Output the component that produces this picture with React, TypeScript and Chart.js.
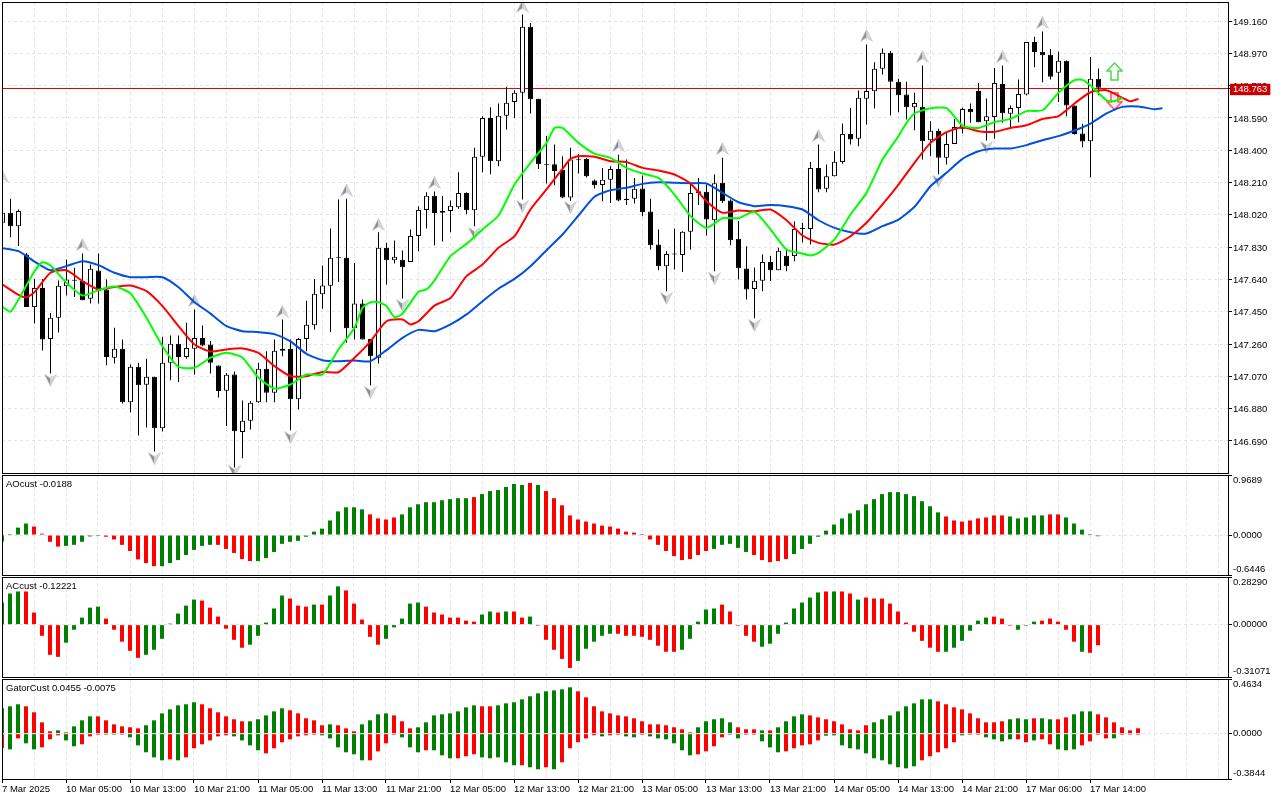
import { useEffect, useRef } from 'react';
import { Chart, registerables } from 'chart.js';

Chart.register(...registerables);

const opens = [147.973,148.032,147.953,147.786,147.477,147.590,147.290,147.414,147.600,147.637,147.630,147.526,147.692,147.581,147.179,147.232,146.918,147.126,147.020,147.067,146.765,147.149,147.261,147.183,147.232,147.296,147.257,147.134,146.985,147.081,146.743,146.808,146.918,147.114,146.973,147.220,147.232,146.935,147.290,147.371,147.553,147.602,147.767,147.767,147.353,147.498,147.290,147.179,147.826,147.753,147.755,147.743,147.896,148.049,148.132,148.032,148.043,148.065,148.149,148.047,148.361,148.590,148.335,148.602,148.684,148.738,149.126,148.702,148.318,148.318,148.285,148.122,148.345,148.349,148.222,148.196,148.226,148.290,148.114,148.114,148.175,148.039,147.845,147.718,147.786,147.783,147.920,148.159,148.155,147.988,148.208,148.104,147.879,147.704,147.583,147.632,147.743,147.694,147.779,147.777,147.937,147.937,148.296,148.173,148.247,148.330,148.496,148.467,148.702,148.747,148.879,148.973,148.802,148.728,148.653,148.655,148.459,148.514,148.355,148.437,148.526,148.643,148.749,148.571,148.596,148.790,148.614,148.649,148.727,149.037,148.979,148.961,148.855,148.926,148.663,148.498,148.453,148.820];
const highs = [148.061,148.114,148.051,147.796,147.643,147.643,147.443,147.633,147.757,147.708,147.792,147.728,147.792,147.639,147.355,147.287,147.139,147.149,147.173,147.067,147.302,147.310,147.310,147.385,147.463,147.369,147.277,147.134,147.090,147.098,146.928,146.924,147.149,147.218,147.287,147.404,147.287,147.296,147.514,147.643,147.722,147.939,148.110,148.114,147.737,147.522,147.290,147.918,147.855,147.869,147.810,147.934,148.071,148.153,148.157,148.130,148.104,148.271,148.153,148.414,148.600,148.653,148.675,148.773,148.753,149.198,149.149,148.702,148.483,148.433,148.365,148.414,148.377,148.353,148.228,148.296,148.306,148.373,148.345,148.237,148.251,148.114,147.934,147.806,147.939,147.924,148.204,148.237,148.198,148.257,148.355,148.110,147.983,147.835,147.710,147.786,147.777,147.826,147.816,147.981,147.973,148.330,148.434,148.316,148.394,148.557,148.649,148.751,149.022,148.918,148.998,148.983,148.820,148.802,148.738,148.898,148.571,148.526,148.502,148.584,148.651,148.675,148.796,148.704,148.884,148.898,148.663,148.816,149.037,149.067,149.098,148.996,148.979,148.928,148.663,148.555,148.949,148.880];
const lows = [147.934,147.888,147.836,147.477,147.381,147.222,147.087,147.328,147.545,147.536,147.518,147.498,147.498,147.135,147.145,146.910,146.859,146.722,146.769,146.628,146.745,147.047,147.036,147.173,147.081,147.247,147.087,146.945,146.777,146.534,146.588,146.757,146.914,146.918,146.918,147.188,146.753,146.875,147.218,147.345,147.467,147.330,147.624,147.267,147.286,147.286,147.016,147.145,147.610,147.734,147.528,147.743,147.806,147.939,147.840,147.863,147.918,148.055,148.024,147.953,148.271,148.259,148.306,148.522,148.590,148.110,148.616,148.290,148.204,148.194,148.118,148.102,148.263,148.239,148.175,148.100,148.090,148.100,148.077,148.086,148.012,147.816,147.694,147.571,147.698,147.683,147.816,148.077,147.898,147.688,148.090,147.841,147.639,147.522,147.412,147.571,147.630,147.694,147.688,147.747,147.859,147.845,148.153,148.153,148.247,148.320,148.434,148.424,148.551,148.645,148.845,148.604,148.624,148.581,148.518,148.345,148.365,148.259,148.316,148.437,148.498,148.561,148.565,148.457,148.467,148.561,148.531,148.565,148.722,148.888,148.800,148.816,148.683,148.600,148.492,148.418,148.241,148.724];
const closes = [148.032,147.953,148.043,147.477,147.590,147.287,147.414,147.602,147.639,147.632,147.518,147.702,147.571,147.183,147.232,146.918,147.126,147.018,147.067,146.765,147.149,147.261,147.183,147.237,147.296,147.251,147.149,146.983,147.079,146.747,146.808,146.914,147.114,146.973,147.220,147.232,146.935,147.290,147.373,147.555,147.604,147.767,147.767,147.353,147.498,147.286,147.188,147.826,147.753,147.773,147.712,147.896,148.049,148.132,148.030,148.043,148.073,148.149,148.047,148.361,148.590,148.335,148.602,148.679,148.738,149.126,148.700,148.318,148.312,148.277,148.122,148.345,148.341,148.247,148.194,148.226,148.290,148.104,148.106,148.173,148.035,147.841,147.718,147.790,147.790,147.920,148.149,148.149,147.992,148.206,148.100,147.871,147.706,147.581,147.632,147.743,147.694,147.808,147.718,147.937,147.937,148.296,148.169,148.247,148.332,148.496,148.463,148.708,148.749,148.879,148.973,148.802,148.724,148.653,148.677,148.453,148.514,148.355,148.437,148.537,148.643,148.624,148.565,148.600,148.796,148.618,148.649,148.731,149.037,148.977,148.959,148.832,148.926,148.663,148.496,148.451,148.820,148.767];

const jaw: [number, number][] = [[0,147.824],[2,147.806],[4,147.745],[6,147.694],[8,147.718],[10,147.747],[12,147.724],[14,147.679],[16,147.653],[18,147.653],[20,147.653],[22,147.594],[24,147.506],[26,147.439],[28,147.365],[30,147.335],[32,147.330],[34,147.318],[36,147.275],[38,147.202],[40,147.165],[42,147.159],[44,147.163],[46,147.159],[48,147.224],[50,147.296],[52,147.343],[54,147.335],[56,147.375],[58,147.434],[60,147.512],[62,147.585],[64,147.643],[66,147.718],[68,147.812],[70,147.904],[72,148.016],[74,148.126],[76,148.165],[78,148.179],[80,148.202],[82,148.212],[84,148.208],[86,148.206],[88,148.204],[90,148.149],[92,148.094],[94,148.071],[96,148.077],[98,148.071],[100,148.051],[102,147.988],[104,147.943],[106,147.918],[108,147.910],[110,147.953],[112,147.992],[114,148.067],[116,148.188],[118,148.267],[120,148.349],[122,148.394],[124,148.410],[126,148.410],[128,148.430],[130,148.459],[132,148.483],[134,148.516],[136,148.557],[138,148.616],[140,148.655],[142,148.657],[144,148.641],[145,148.647]];
const teeth: [number, number][] = [[0,147.610],[2,147.549],[3,147.535],[4,147.565],[6,147.679],[8,147.694],[10,147.630],[12,147.581],[14,147.596],[16,147.604],[18,147.571],[20,147.483],[22,147.365],[24,147.257],[26,147.216],[28,147.228],[30,147.234],[32,147.208],[34,147.130],[36,147.071],[38,147.071],[40,147.096],[42,147.094],[44,147.179],[46,147.276],[48,147.394],[50,147.404],[51,147.375],[52,147.394],[54,147.486],[56,147.531],[58,147.659],[60,147.727],[62,147.826],[64,147.894],[66,148.051],[68,148.169],[70,148.290],[71,148.349],[72,148.365],[74,148.361],[76,148.335],[78,148.330],[80,148.296],[82,148.281],[84,148.257],[86,148.204],[88,148.100],[90,148.032],[92,148.045],[94,148.041],[96,148.051],[98,147.988],[100,147.898],[102,147.855],[104,147.845],[106,147.894],[108,147.973],[110,148.081],[112,148.198],[114,148.326],[116,148.443],[118,148.506],[120,148.535],[122,148.512],[124,148.508],[126,148.531],[128,148.547],[130,148.584],[132,148.600],[134,148.675],[136,148.741],[138,148.753],[140,148.708],[141,148.688],[142,148.702]];
const lips: [number, number][] = [[0,147.479],[1,147.449],[2,147.522],[4,147.688],[5,147.741],[6,147.722],[8,147.620],[10,147.545],[12,147.577],[14,147.598],[16,147.557],[18,147.414],[20,147.247],[22,147.126],[24,147.120],[26,147.179],[28,147.208],[30,147.179],[32,147.061],[34,146.998],[36,147.022],[38,147.081],[40,147.081],[42,147.228],[44,147.355],[45,147.473],[46,147.506],[47,147.506],[48,147.483],[49,147.418],[50,147.439],[52,147.567],[53,147.581],[54,147.634],[56,147.777],[58,147.849],[60,147.934],[62,148.016],[64,148.198],[66,148.326],[68,148.443],[69,148.531],[70,148.531],[72,148.443],[74,148.380],[76,148.355],[78,148.296],[80,148.263],[82,148.237],[84,148.139],[86,148.012],[88,147.943],[90,148.000],[92,148.000],[94,148.037],[96,147.934],[98,147.816],[100,147.792],[101,147.781],[102,147.796],[104,147.875],[106,148.022],[108,148.149],[110,148.345],[112,148.483],[113,148.561],[114,148.616],[116,148.647],[118,148.647],[120,148.545],[122,148.531],[124,148.565],[126,148.584],[128,148.630],[130,148.635],[132,148.738],[134,148.812],[135,148.814],[136,148.780],[138,148.694],[139,148.688],[140,148.708]];

const fractalUpIndex = [0,10,24,35,43,47,54,65,77,90,102,108,115,125,130];
const fractalUpPrice = [148.245,147.845,147.516,147.453,148.165,147.963,148.210,149.247,148.428,148.410,148.487,149.075,148.951,148.951,149.151];
const fractalDownIndex = [6,19,29,36,46,50,59,65,71,83,89,94,117,123];
const fractalDownPrice = [147.047,146.586,146.510,146.710,146.975,147.486,147.910,148.069,148.063,147.528,147.645,147.369,148.218,148.416];
const signalIndex = 139;
const signalBuyPrice = 148.863;
const signalSellPrice = 148.688;

const bid = 148.763;
const priceTicks = [149.16,148.97,148.78,148.59,148.4,148.21,148.02,147.83,147.64,147.45,147.26,147.07,146.88,146.69];

const aoValues = [-0.104,0.005,0.120,0.186,0.137,0.022,-0.109,-0.186,-0.175,-0.158,-0.109,-0.022,-0.011,-0.027,-0.071,-0.158,-0.257,-0.393,-0.453,-0.502,-0.502,-0.453,-0.404,-0.322,-0.240,-0.175,-0.158,-0.158,-0.224,-0.289,-0.388,-0.420,-0.420,-0.371,-0.273,-0.142,-0.109,-0.093,-0.027,0.055,0.104,0.235,0.382,0.448,0.448,0.415,0.333,0.268,0.251,0.284,0.333,0.448,0.497,0.530,0.530,0.562,0.579,0.595,0.595,0.612,0.661,0.710,0.726,0.775,0.824,0.808,0.841,0.808,0.710,0.595,0.480,0.317,0.251,0.218,0.186,0.153,0.137,0.104,0.055,0.038,0.005,-0.071,-0.158,-0.257,-0.339,-0.404,-0.388,-0.322,-0.257,-0.224,-0.158,-0.142,-0.207,-0.273,-0.322,-0.404,-0.437,-0.420,-0.388,-0.306,-0.224,-0.142,-0.027,0.071,0.169,0.268,0.349,0.399,0.497,0.579,0.661,0.693,0.693,0.661,0.628,0.546,0.464,0.366,0.300,0.235,0.218,0.235,0.268,0.284,0.317,0.317,0.300,0.268,0.284,0.317,0.317,0.333,0.333,0.284,0.186,0.087,0.005,-0.0188];
const aoColors = 'ggggrrrrgggggrrrrrrrgggggggrrrrrggggggggggggggrrrrgggggggggrggggggrgrrrrrrrrrrrrrrrrrrrrrgggggrrrrrgggggggggggggggggggrrrrrrrrgggggrrggggrrrrrr';
const acValues = [0.131,0.185,0.197,0.197,0.072,-0.066,-0.179,-0.191,-0.107,-0.030,0.042,0.101,0.107,0.036,-0.030,-0.101,-0.155,-0.197,-0.179,-0.149,-0.084,0.006,0.066,0.113,0.149,0.143,0.101,0.048,-0.024,-0.090,-0.137,-0.119,-0.066,0.012,0.096,0.173,0.155,0.113,0.107,0.119,0.119,0.173,0.227,0.203,0.125,0.030,-0.072,-0.119,-0.084,-0.016,0.036,0.125,0.131,0.107,0.072,0.060,0.042,0.042,0.024,0.018,0.060,0.078,0.072,0.078,0.078,0.042,0.048,-0.004,-0.090,-0.149,-0.203,-0.257,-0.215,-0.143,-0.101,-0.066,-0.054,-0.054,-0.066,-0.066,-0.072,-0.090,-0.125,-0.161,-0.161,-0.149,-0.084,0.018,0.090,0.096,0.119,0.078,-0.006,-0.066,-0.101,-0.131,-0.113,-0.054,0.012,0.096,0.131,0.161,0.191,0.197,0.197,0.197,0.185,0.149,0.161,0.155,0.155,0.125,0.078,0.012,-0.042,-0.096,-0.137,-0.161,-0.161,-0.137,-0.096,-0.036,0.024,0.042,0.048,0.036,-0.004,-0.030,-0.006,0.018,0.024,0.036,0.018,-0.030,-0.101,-0.161,-0.167,-0.12221];
const acColors = 'gggrrrrrgggggrrrrrgggggggrrrrrrgggggrrrgrggrrrrrgggggrrrrrrrggrgrrgrrrrrgggggrrrrrrrrgggggrrrrrggggggggrgrrgrrrrrrrrrrggggggrrrgggrrrrrg';
const gatorUpper = [0.215,0.232,0.249,0.232,0.181,0.096,0.020,0.028,0.011,0.062,0.113,0.147,0.147,0.113,0.079,0.062,0.054,0.045,0.071,0.113,0.172,0.206,0.240,0.249,0.266,0.249,0.215,0.181,0.147,0.122,0.105,0.105,0.122,0.155,0.189,0.215,0.198,0.172,0.130,0.113,0.071,0.079,0.071,0.045,0.020,0.079,0.113,0.164,0.172,0.155,0.105,0.045,0.054,0.096,0.155,0.164,0.172,0.189,0.223,0.240,0.232,0.232,0.240,0.257,0.266,0.291,0.317,0.342,0.359,0.367,0.376,0.393,0.359,0.308,0.232,0.189,0.172,0.155,0.147,0.130,0.105,0.079,0.079,0.071,0.054,0.037,0.011,0.054,0.105,0.122,0.130,0.096,0.054,0.037,0.037,0.028,0.028,0.054,0.105,0.147,0.164,0.155,0.138,0.122,0.105,0.079,0.037,0.028,0.071,0.096,0.122,0.155,0.189,0.232,0.257,0.291,0.291,0.274,0.249,0.223,0.206,0.172,0.130,0.096,0.096,0.105,0.122,0.130,0.122,0.130,0.130,0.122,0.122,0.138,0.164,0.189,0.189,0.164,0.138,0.096,0.054,0.028,0.0455];
const gatorLower = [-0.122,-0.133,-0.040,-0.082,-0.133,-0.116,-0.048,-0.014,-0.057,-0.107,-0.090,-0.023,-0.006,-0.006,-0.006,-0.006,-0.031,-0.099,-0.158,-0.201,-0.226,-0.218,-0.226,-0.201,-0.124,-0.090,-0.057,-0.023,-0.014,-0.023,-0.057,-0.099,-0.141,-0.167,-0.124,-0.073,-0.048,-0.023,-0.014,-0.006,-0.014,-0.040,-0.116,-0.158,-0.175,-0.226,-0.226,-0.150,-0.082,-0.006,-0.031,-0.116,-0.158,-0.141,-0.141,-0.184,-0.209,-0.209,-0.192,-0.175,-0.201,-0.209,-0.201,-0.243,-0.268,-0.268,-0.285,-0.302,-0.285,-0.302,-0.243,-0.124,-0.073,-0.040,-0.014,-0.023,-0.014,-0.008,-0.023,-0.031,-0.006,-0.023,-0.040,-0.048,-0.082,-0.141,-0.184,-0.175,-0.150,-0.107,-0.031,-0.008,-0.040,-0.006,-0.006,-0.065,-0.116,-0.158,-0.150,-0.124,-0.099,-0.090,-0.057,-0.017,-0.014,-0.099,-0.124,-0.133,-0.167,-0.209,-0.226,-0.260,-0.285,-0.294,-0.277,-0.226,-0.192,-0.158,-0.124,-0.073,-0.014,-0.006,-0.006,-0.031,-0.048,-0.065,-0.048,-0.048,-0.073,-0.057,-0.048,-0.090,-0.133,-0.141,-0.133,-0.099,-0.065,-0.006,-0.040,-0.040,-0.006,-0.006,-0.0075];
const gatorUpperColors = 'gggrrrrgrgggrrrrrrgggggggrrrrrrgggggrrrrrgrrrggggrrrggggggggrrggggggggggrrrrrrrrrrrrrrrgggggrrrgrggggrrrrrrrrggggggggrrrrrrrrrgggrggrrgggrrrrrrg';
const gatorLowerColors = 'rgrggrrrggrrrggggggggrgrrrrrrggggrrrrrrrggggggrrrrgggrgggrrrgggggrggrgrrrrrgrrggrggggggrrrrrgrrgggrrrrrggggggggggggrrrrrgrrggggrrgrrgggrrrrgrrrr';

const aoTicks = [0.9689, 0, -0.6446];
const acTicks = [0.2829, 0, -0.31071];
const gatorTicks = [0.4634, 0, -0.3844];

const timeLabels = ['7 Mar 2025','10 Mar 05:00','10 Mar 13:00','10 Mar 21:00','11 Mar 05:00','11 Mar 13:00','11 Mar 21:00','12 Mar 05:00','12 Mar 13:00','12 Mar 21:00','13 Mar 05:00','13 Mar 13:00','13 Mar 21:00','14 Mar 05:00','14 Mar 13:00','14 Mar 21:00','17 Mar 06:00','17 Mar 14:00'];
const gridIndexes = [0,4,8,12,16,20,24,28,32,36,40,44,48,52,56,60,64,68,72,76,80,84,88,92,96,100,104,108,112,116,120,124,128,132,136,140,144,148,152];

const GRID = '#e3e3e3';
const UP = '#008000';
const DOWN = '#ff0000';
const FONT = { family: '"Liberation Sans", Arial, sans-serif', size: 9.5 };
const FONT_CSS = '9.5px "Liberation Sans", Arial, sans-serif';

function pairs(xs: number[], ys: number[]) {
  return xs.map((x, i) => ({ x, y: ys[i] }));
}

function fixSize(s: any, w: number | null, h: number | null) {
  if (w !== null) s.width = w;
  if (h !== null) s.height = h;
  s.paddingTop = 0;
  s.paddingBottom = 0;
  s.paddingLeft = 0;
  s.paddingRight = 0;
}

function xScale(min: number, max: number, labels: boolean) {
  return {
    type: 'linear',
    min,
    max,
    offset: false,
    afterBuildTicks: (s: any) => { s.ticks = gridIndexes.map((value) => ({ value })); },
    afterFit: (s: any) => fixSize(s, null, labels ? 21 : 0),
    grid: {
      offset: false,
      color: GRID,
      lineWidth: 1,
      drawTicks: labels,
      tickLength: 4,
      tickColor: (c: any) => (c.tick && c.tick.value % 8 === 0 && c.tick.value <= 136 ? '#000' : 'transparent'),
    },
    border: { display: false, dash: [3, 3] },
    ticks: {
      display: labels,
      autoSkip: false,
      maxRotation: 0,
      minRotation: 0,
      align: 'start',
      padding: 1,
      color: '#000',
      font: FONT,
      callback: (v: number) => (v % 8 === 0 ? timeLabels[v / 8] ?? '' : ''),
    },
  };
}

function subY(values: number[], decimals: number, onTop: boolean) {
  const top = values[0];
  const bottom = values[2];
  return {
    position: 'right',
    min: bottom,
    max: top,
    afterBuildTicks: (s: any) => { s.ticks = values.map((value) => ({ value })); },
    afterFit: (s: any) => fixSize(s, 52, null),
    grid: {
      z: onTop ? 1 : 0,
      color: (c: any) => (c.tick && c.tick.value === 0 ? GRID : 'transparent'),
      tickLength: 4,
      tickColor: '#000',
    },
    border: { display: false, dash: [3, 3] },
    ticks: {
      autoSkip: false,
      padding: 1,
      color: '#000',
      font: FONT,
      callback: (v: number) => {
        const t = v.toFixed(decimals);
        if (v === top) return ['', t];
        if (v === bottom) return [t, ''];
        return t;
      },
    },
  };
}

function frame(text: string | null) {
  return {
    id: 'frame',
    afterDraw(chart: any) {
      const { ctx, chartArea: a } = chart;
      ctx.save();
      ctx.strokeStyle = '#000';
      ctx.lineWidth = 1;
      ctx.strokeRect(a.left + 0.5, a.top + 0.5, a.right - a.left, a.bottom - a.top);
      if (text) {
        ctx.fillStyle = '#000';
        ctx.font = FONT_CSS;
        ctx.textBaseline = 'middle';
        ctx.textAlign = 'left';
        ctx.fillText(text, a.left + 4, a.top + 9.5);
      }
      ctx.restore();
    },
  };
}

function fractal(up: boolean) {
  const c = document.createElement('canvas');
  c.width = 13;
  c.height = 13;
  const g = c.getContext('2d') as CanvasRenderingContext2D;
  if (!up) { g.translate(0, 13); g.scale(1, -1); }
  g.beginPath(); g.moveTo(6.5, 0.5); g.lineTo(6.5, 8.5); g.lineTo(0.5, 12.5); g.closePath();
  g.fillStyle = '#8f8f8f'; g.fill();
  g.beginPath(); g.moveTo(6.5, 0.5); g.lineTo(6.5, 8.5); g.lineTo(12.5, 12.5); g.closePath();
  g.fillStyle = '#d4d4d8'; g.fill();
  g.beginPath(); g.moveTo(6.5, 0.5); g.lineTo(12.5, 12.5); g.lineTo(6.5, 8.5); g.lineTo(0.5, 12.5); g.closePath();
  g.strokeStyle = 'rgba(190,200,215,0.8)'; g.lineWidth = 0.8; g.stroke();
  return c;
}

function bigArrow(up: boolean) {
  const c = document.createElement('canvas');
  c.width = 17;
  c.height = 19;
  const g = c.getContext('2d') as CanvasRenderingContext2D;
  if (!up) { g.translate(0, 19); g.scale(1, -1); }
  g.beginPath();
  g.moveTo(8.5, 1); g.lineTo(16, 9); g.lineTo(12, 9); g.lineTo(12, 18); g.lineTo(5, 18); g.lineTo(5, 9); g.lineTo(1, 9);
  g.closePath();
  g.fillStyle = up ? '#ffffff' : 'rgba(255,205,215,0.45)';
  g.fill();
  g.strokeStyle = up ? '#44dd44' : '#ff4a60';
  g.lineWidth = 1.5;
  g.stroke();
  return c;
}

function subBars(values: number[], colors: string) {
  return {
    type: 'bar',
    grouped: false,
    barThickness: 4,
    inflateAmount: 0,
    borderWidth: 0,
    minBarLength: 1,
    data: pairs(values.map((_, i) => i), values),
    backgroundColor: values.map((_, i) => (colors[i] === 'g' ? UP : DOWN)),
  };
}

function subOptions(values: number[], decimals: number, bottomLabels: boolean, onTop: boolean) {
  return {
    responsive: false,
    animation: false,
    devicePixelRatio: 1,
    layout: { autoPadding: false, padding: { left: 2, top: 1, bottom: bottomLabels ? 0 : 1, right: 0 } },
    plugins: { legend: { display: false }, tooltip: { enabled: false } },
    scales: {
      x: xScale(0, 153.25, bottomLabels),
      y: subY(values, decimals, onTop),
    },
  };
}

export default function App() {
  const mainRef = useRef<HTMLCanvasElement>(null);
  const aoRef = useRef<HTMLCanvasElement>(null);
  const acRef = useRef<HTMLCanvasElement>(null);
  const gatorRef = useRef<HTMLCanvasElement>(null);

  useEffect(() => {
    const idx = opens.map((_, i) => i);
    const lineStyle = { type: 'line', pointRadius: 0, borderWidth: 2, fill: false, tension: 0.2 };
    const main = new Chart(mainRef.current as HTMLCanvasElement, {
      type: 'bar',
      data: {
        datasets: [
          { type: 'line', order: 60, data: [{ x: -1, y: bid }, { x: 154, y: bid }], borderColor: '#d80000', borderWidth: 1, pointRadius: 0 },
          { type: 'bar', order: 50, grouped: false, barThickness: 1, inflateAmount: 0, borderWidth: 0, backgroundColor: '#000',
            data: idx.map((i) => ({ x: i, y: [lows[i], highs[i]] })) },
          { type: 'bar', order: 40, grouped: false, barThickness: 5, inflateAmount: 0, borderWidth: 1, borderSkipped: false, borderColor: '#000', minBarLength: 1,
            backgroundColor: idx.map((i) => (closes[i] >= opens[i] ? '#fff' : '#000')),
            data: idx.map((i) => ({ x: i, y: [opens[i], closes[i]] })) },
          { type: 'line', order: 30, showLine: false, pointStyle: fractal(true), pointRadius: 6, data: pairs(fractalUpIndex, fractalUpPrice) },
          { type: 'line', order: 30, showLine: false, pointStyle: fractal(false), pointRadius: 6, data: pairs(fractalDownIndex, fractalDownPrice) },
          { type: 'line', order: 25, showLine: false, pointStyle: bigArrow(true), pointRadius: 8, data: [{ x: signalIndex, y: signalBuyPrice }] },
          { type: 'line', order: 25, showLine: false, pointStyle: bigArrow(false), pointRadius: 8, data: [{ x: signalIndex, y: signalSellPrice }] },
          { ...lineStyle, order: 22, borderColor: '#0050dc', data: jaw.map(([x, y]) => ({ x, y })) },
          { ...lineStyle, order: 21, borderColor: '#ff0000', data: teeth.map(([x, y]) => ({ x, y })) },
          { ...lineStyle, order: 20, borderColor: '#00ff00', data: lips.map(([x, y]) => ({ x, y })) },
        ],
      },
      options: {
        responsive: false,
        animation: false,
        devicePixelRatio: 1,
        layout: { autoPadding: false, padding: { left: 2, top: 2, bottom: 1, right: 0 } },
        plugins: { legend: { display: false }, tooltip: { enabled: false } },
        scales: {
          x: xScale(-0.0625, 153.1875, false),
          y: {
            position: 'right',
            min: 146.5012,
            max: 149.2718,
            afterBuildTicks: (s: any) => { s.ticks = [...priceTicks, bid].map((value) => ({ value })); },
            afterFit: (s: any) => fixSize(s, 52, null),
            grid: {
              color: (c: any) => (c.tick && c.tick.value === bid ? 'transparent' : GRID),
              tickLength: 4,
              tickColor: '#000',
            },
            border: { display: false, dash: [3, 3] },
            ticks: {
              autoSkip: false,
              padding: 1,
              labelOffset: 1,
              font: FONT,
              color: (c: any) => (c.tick && c.tick.value === bid ? '#fff' : '#000'),
              showLabelBackdrop: (c: any) => !!(c.tick && c.tick.value === bid),
              backdropColor: '#c80000',
              backdropPadding: { top: 0, bottom: 0, left: 3, right: 3 },
              callback: (v: number) => v.toFixed(3),
            },
          },
        },
      } as any,
      plugins: [frame(null)],
    } as any);

    const ao = new Chart(aoRef.current as HTMLCanvasElement, {
      type: 'bar',
      data: { datasets: [subBars(aoValues, aoColors)] },
      options: subOptions(aoTicks, 4, false, false),
      plugins: [frame('AOcust -0.0188')],
    } as any);

    const ac = new Chart(acRef.current as HTMLCanvasElement, {
      type: 'bar',
      data: { datasets: [subBars(acValues, acColors)] },
      options: subOptions(acTicks, 5, false, false),
      plugins: [frame('ACcust -0.12221')],
    } as any);

    const gator = new Chart(gatorRef.current as HTMLCanvasElement, {
      type: 'bar',
      data: { datasets: [subBars(gatorUpper, gatorUpperColors), subBars(gatorLower, gatorLowerColors)] },
      options: subOptions(gatorTicks, 4, true, true),
      plugins: [frame('GatorCust 0.0455 -0.0075')],
    } as any);

    return () => {
      main.destroy();
      ao.destroy();
      ac.destroy();
      gator.destroy();
    };
  }, []);

  const pos = (top: number): any => ({ position: 'absolute', left: 0, top, display: 'block' });
  return (
    <div style={{ position: 'fixed', left: 0, top: 0, width: 1280, height: 800, background: '#fff', overflow: 'hidden' }}>
      <canvas ref={mainRef} width={1280} height={474} style={pos(0)} />
      <canvas ref={aoRef} width={1280} height={102} style={pos(474)} />
      <canvas ref={acRef} width={1280} height={102} style={pos(576)} />
      <canvas ref={gatorRef} width={1280} height={122} style={pos(678)} />
    </div>
  );
}
